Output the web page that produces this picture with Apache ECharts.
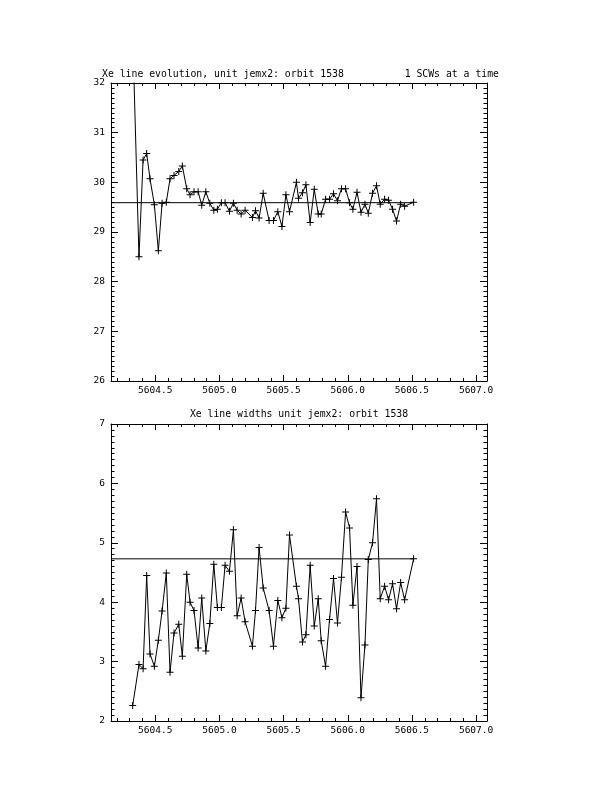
<!DOCTYPE html>
<html>
<head>
<meta charset="utf-8">
<script src="https://cdn.jsdelivr.net/npm/echarts@6/dist/echarts.min.js"></script>
<style>
html,body{margin:0;padding:0;background:#fff;}
#c{width:612px;height:792px;}
</style>
</head>
<body>
<div id="c"></div>
<script>
// ---- data ----
const times = [
 5604.324,5604.373,5604.405,5604.433,5604.459,5604.493,5604.524,5604.553,5604.586,5604.615,
 5604.646,5604.683,5604.711,5604.745,5604.771,5604.802,5604.834,5604.862,5604.894,5604.925,
 5604.956,5604.984,5605.015,5605.044,5605.078,5605.109,5605.138,5605.169,5605.200,5605.257,
 5605.281,5605.309,5605.341,5605.387,5605.421,5605.455,5605.487,5605.518,5605.546,5605.600,
 5605.616,5605.647,5605.674,5605.707,5605.739,5605.770,5605.793,5605.827,5605.858,5605.889,
 5605.920,5605.951,5605.983,5606.014,5606.040,5606.072,5606.103,5606.134,5606.160,5606.193,
 5606.224,5606.253,5606.287,5606.318,5606.349,5606.380,5606.412,5606.443,5606.513
];
const linePos = [
 33.00,28.50,30.45,30.58,30.07,29.55,28.62,29.58,29.60,30.07,
 30.14,30.22,30.33,29.87,29.75,29.81,29.81,29.54,29.81,29.58,
 29.44,29.46,29.59,29.59,29.42,29.58,29.44,29.36,29.44,29.29,
 29.43,29.28,29.78,29.23,29.23,29.41,29.11,29.75,29.41,30.00,
 29.68,29.79,29.95,29.19,29.86,29.36,29.36,29.66,29.66,29.77,
 29.63,29.87,29.87,29.59,29.46,29.80,29.40,29.56,29.38,29.78,
 29.93,29.56,29.66,29.64,29.46,29.22,29.56,29.52,29.60
];
const lineWidth = [
 2.26,2.95,2.88,4.45,3.13,2.92,3.36,3.85,4.49,2.82,
 3.48,3.63,3.09,4.47,4.00,3.86,3.23,4.07,3.18,3.64,
 4.64,3.91,3.91,4.62,4.52,5.22,3.77,4.07,3.67,3.26,
 3.86,4.92,4.24,3.86,3.26,4.03,3.74,3.90,5.13,4.27,
 4.06,3.33,3.45,4.62,3.60,4.06,3.35,2.92,3.71,4.40,
 3.65,4.42,5.52,5.25,3.95,4.60,2.39,3.28,4.72,5.00,
 5.74,4.06,4.27,4.04,4.31,3.89,4.33,4.04,4.73
];
const meanPos = 29.59;
const meanWidth = 4.73;
const xMin = 5604.155, xMax = 5607.085;
const yPosRange = [26, 32];
const yWidRange = [2, 7];
const titleTop = 'Xe line evolution, unit jemx2: orbit 1538';
const titleTopRight = '1 SCWs at a time';
const titleBottom = 'Xe line widths unit jemx2: orbit 1538';

// ---- chart ----
const FONT = 'DejaVu Sans Mono';
const plus = 'path://M3,0h1v3h3v1h-3v3h-1v-3h-3v-1h3z';
const black = '#000';

function xAxes(grid){
  const common = {type:'value', gridIndex:grid, min:xMin, max:xMax, splitLine:{show:false}};
  return [
    Object.assign({}, common, {position:'bottom', splitNumber:5,
      axisLine:{show:true, onZero:false, lineStyle:{color:black,width:1}},
      axisTick:{show:true, inside:true, length:6, lineStyle:{color:black}},
      axisLabel:{show:true, margin:5, color:black, fontFamily:FONT, fontSize:9.5,
        showMinLabel:false, showMaxLabel:false,
        formatter:v=>v.toFixed(1)}}),
    Object.assign({}, common, {position:'bottom', splitNumber:30,
      axisLine:{show:false, onZero:false},
      axisTick:{show:true, inside:true, length:3, lineStyle:{color:black}},
      axisLabel:{show:false}}),
    Object.assign({}, common, {position:'top', splitNumber:5,
      axisLine:{show:true, onZero:false, lineStyle:{color:black,width:1}},
      axisTick:{show:true, inside:true, length:6, lineStyle:{color:black}},
      axisLabel:{show:false}}),
    Object.assign({}, common, {position:'top', splitNumber:30,
      axisLine:{show:false, onZero:false},
      axisTick:{show:true, inside:true, length:3, lineStyle:{color:black}},
      axisLabel:{show:false}})
  ];
}
function yAxes(grid, range){
  const common = {type:'value', gridIndex:grid, min:range[0], max:range[1], interval:1,
    splitLine:{show:false},
    axisLine:{show:true, onZero:false, lineStyle:{color:black,width:1}},
    axisTick:{show:true, inside:true, length:7, lineStyle:{color:black}},
    minorTick:{show:true, splitNumber:10, length:3.5, lineStyle:{color:black}}};
  return [
    Object.assign({}, common, {position:'left',
      axisLabel:{show:true, margin:6, color:black, fontFamily:FONT, fontSize:9.5}}),
    Object.assign({}, common, {position:'right', axisLabel:{show:false}})
  ];
}

const pts1 = times.map((t,i)=>[t, linePos[i]]);
const pts2 = times.map((t,i)=>[t, lineWidth[i]]);
const lastT = times[times.length-1];

const dataSeries = (data, xi, yi) => ({
  type:'line', xAxisIndex:xi, yAxisIndex:yi, data:data,
  symbol:plus, symbolSize:7, showAllSymbol:true, clip:true,
  lineStyle:{color:black, width:1}, itemStyle:{color:black},
  emphasis:{disabled:true}, z:3
});
const meanSeries = (val, xi, yi) => ({
  type:'line', xAxisIndex:xi, yAxisIndex:yi,
  data:[[xMin, val],[lastT, val]], symbol:'none',
  lineStyle:{color:black, width:1}, emphasis:{disabled:true}, z:2
});

const chart = echarts.init(document.getElementById('c'), null, {renderer:'canvas'});
chart.setOption({
  animation:false,
  backgroundColor:'#fff',
  title:[
    {text:titleTop, left:102, top:69, padding:0,
     textStyle:{fontFamily:FONT, fontSize:9.8, fontWeight:'normal', color:black}},
    {text:titleTopRight, right:113, top:69, padding:0,
     textStyle:{fontFamily:FONT, fontSize:9.8, fontWeight:'normal', color:black}},
    {text:titleBottom, left:299, textAlign:'center', top:409, padding:0,
     textStyle:{fontFamily:FONT, fontSize:9.8, fontWeight:'normal', color:black}}
  ],
  grid:[
    {left:111, top:83, width:376, height:298},
    {left:111, top:424, width:376, height:297}
  ],
  xAxis:[].concat(xAxes(0), xAxes(1)),
  yAxis:[].concat(yAxes(0, yPosRange), yAxes(1, yWidRange)),
  series:[
    meanSeries(meanPos, 0, 0),
    dataSeries(pts1, 0, 0),
    meanSeries(meanWidth, 4, 2),
    dataSeries(pts2, 4, 2)
  ]
});
</script>
</body>
</html>
